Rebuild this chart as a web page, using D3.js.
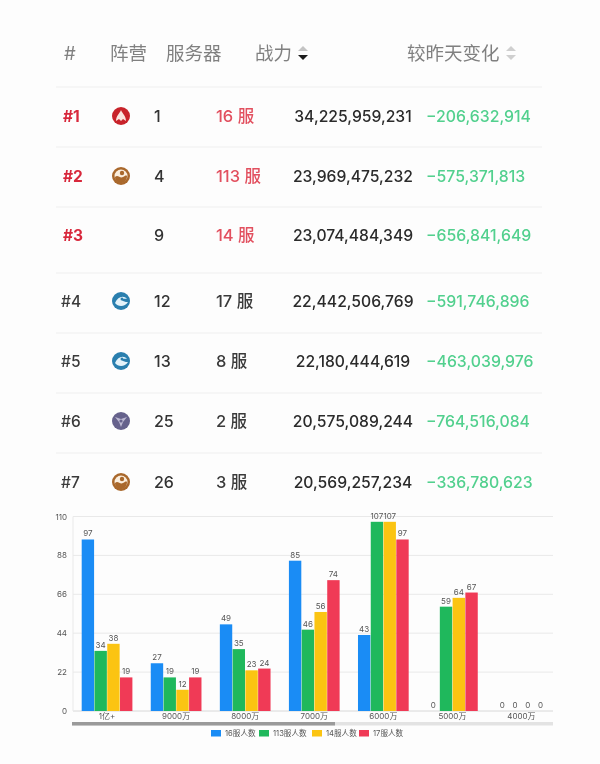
<!DOCTYPE html>
<html><head><meta charset="utf-8">
<script src="https://cdn.jsdelivr.net/npm/d3@7"></script>
<style>
html,body{margin:0;padding:0;background:#fdfdfd}
svg{display:block}
text{font-family:Inter,"Noto Sans CJK SC",sans-serif}
.soft{filter:blur(0.4px)}
</style></head><body>
<svg id="c" width="600" height="764"></svg>
<script>
// ---- table data
const headers = ["#","阵营","服务器","战力","较昨天变化"];
const ranks = ["#1","#2","#3","#4","#5","#6","#7"];
const factions = ["fire","earth",null,"water","water","wind","earth"];
const serverCounts = ["1","4","9","12","13","25","26"];
const serverNames = ["16 服","113 服","14 服","17 服","8 服","2 服","3 服"];
const powers = ["34,225,959,231","23,969,475,232","23,074,484,349","22,442,506,769","22,180,444,619","20,575,089,244","20,569,257,234"];
const changes = ["−206,632,914","−575,371,813","−656,841,649","−591,746,896","−463,039,976","−764,516,084","−336,780,623"];
// ---- chart data
const categories = ["1亿+","9000万","8000万","7000万","6000万","5000万","4000万"];
const seriesNames = ["16服人数","113服人数","14服人数","17服人数"];
const s16  = [97,27,49,85,43,0,0];
const s113 = [34,19,35,46,107,59,0];
const s14  = [38,12,23,56,107,64,0];
const s17  = [19,19,24,74,97,67,0];
const yTicks = [0,22,44,66,88,110];
const seriesColors = ["#1a8cf5","#1fb85c","#fbc412","#f03a56"];

const svg = d3.select("#c");
const root = svg.append("g").attr("class","soft");

// ---- table
const rowY = d3.scaleOrdinal().domain(ranks).range([116,176,235,301,361,421,482]);
const sepY = [87,147,207,273,333,393,453];
root.selectAll("line.sep").data(sepY).join("line").attr("class","sep")
  .attr("x1",56).attr("x2",542).attr("y1",d=>d).attr("y2",d=>d)
  .attr("stroke","#efefef").attr("stroke-width",1);

const headX = [64,110,166,255,407];
root.selectAll("text.h").data(headers).join("text").attr("class","h")
  .attr("x",(d,i)=>headX[i]).attr("y",60).attr("font-size",18.5).attr("fill","#808080").text(d=>d);

function caret(x, topCol, botCol){
  const g = root.append("g").attr("transform",`translate(${x},53)`);
  g.append("path").attr("d",d3.line()([[-5,-2],[0,-7],[5,-2]])+"Z").attr("fill",topCol);
  g.append("path").attr("d",d3.line()([[-5,2],[0,7],[5,2]])+"Z").attr("fill",botCol);
}
caret(303,"#c4c4c4","#1c1c1c");
caret(511,"#cfcfcf","#cfcfcf");

const rows = root.selectAll("g.row").data(ranks).join("g").attr("class","row")
  .attr("transform",d=>`translate(0,${rowY(d)})`);
const isTop = i => i<3;
rows.append("text").attr("x",(d,i)=>isTop(i)?63:61).attr("y",6).attr("font-size",15.5)
  .attr("font-weight",(d,i)=>isTop(i)?700:500).attr("fill",(d,i)=>isTop(i)?"#d8283c":"#3a3a3a").text(d=>d);
rows.append("text").attr("x",154).attr("y",6).attr("font-size",16).attr("font-weight",500).attr("fill","#333").text((d,i)=>serverCounts[i]);
rows.append("text").attr("x",216).attr("y",6).attr("font-size",16.5).attr("font-weight",500).attr("fill",(d,i)=>isTop(i)?"#e2505f":"#3a3a3a").text((d,i)=>serverNames[i]);
rows.append("text").attr("x",353).attr("y",6).attr("text-anchor","middle").attr("font-size",15.7).attr("font-weight",500).attr("fill","#2b2b2b").text((d,i)=>powers[i]);
rows.append("text").attr("x",426).attr("y",6).attr("font-size",15.8).attr("font-weight",500).attr("fill","#52d08e").text((d,i)=>changes[i]);

// faction icons
const iconStyles = {
  fire:{bg:"#c8232a",fg:"#fbe5df"},
  earth:{bg:"#a9682c",fg:"#fbeedd"},
  water:{bg:"#2a7fae",fg:"#e4f3fa"},
  wind:{bg:"#66628c",fg:"#d9d6ea"}
};
rows.each(function(d,i){
  const f = factions[i]; if(!f) return;
  const st = iconStyles[f];
  const g = d3.select(this).append("g").attr("transform","translate(121,0)");
  g.append("circle").attr("r",9).attr("fill",st.bg);
  if(f==="fire"){
    g.append("path").attr("d","M0,-6 C1,-3 5,0 5,5 L2,3 L0,5 L-2,3 L-5,5 C-5,0 -1,-3 0,-6Z").attr("fill",st.fg);
  } else if(f==="earth"){
    g.append("circle").attr("r",6.5).attr("fill",st.fg);
    g.append("path").attr("d","M-6,1 C-3,-2 -1,3 2,1 C4,0 5,-1 6,0 C6,5 3,7 0,7 C-3,7 -6,5 -6,1Z").attr("fill",st.bg);
    g.append("circle").attr("cx",1).attr("cy",-3).attr("r",2.2).attr("fill",st.bg);
  } else if(f==="water"){
    g.append("path").attr("d","M-6,2 C-3,-5 3,-6 6,-2 C2,-3 0,-1 2,0 C4,1 6,1 7,1 C4,6 -3,6 -6,2Z").attr("fill",st.fg);
    g.append("circle").attr("cx",1).attr("cy",-2).attr("r",1.5).attr("fill",st.bg);
  } else {
    g.append("path").attr("d","M-6,-4 L0,-2 L6,-4 L2,1 L0,6 L-2,1Z").attr("fill",st.fg).attr("opacity",.75);
    g.append("circle").attr("r",1.6).attr("fill",st.bg);
  }
});

// ---- chart
const x = d3.scaleBand().domain(categories).range([72.5,556]);
const x1 = d3.scaleBand().domain(seriesNames).range([9.2,59.9]).paddingInner(0.03);
const y = d3.scaleLinear().domain([0,110]).range([711,516.5]);
const chart = root.append("g");

chart.append("g").selectAll("line").data(yTicks).join("line")
  .attr("x1",73).attr("x2",553).attr("y1",d=>y(d)).attr("y2",d=>y(d))
  .attr("stroke",d=>d===0?"#d8d8d8":"#e9e9e9");
chart.append("line").attr("x1",73).attr("x2",73).attr("y1",y(110)).attr("y2",y(0)).attr("stroke","#e9e9e9");

const yAxis = d3.axisLeft(y).tickValues(yTicks).tickSize(0);
const ya = chart.append("g").attr("transform","translate(63,0)").call(yAxis);
ya.select(".domain").remove();
ya.selectAll("text").attr("font-size",8).attr("fill","#555").attr("text-anchor","end").attr("x",4);

const xAxis = d3.axisBottom(x).tickSize(0);
const xa = chart.append("g").attr("transform","translate(0,711)").call(xAxis);
xa.select(".domain").remove();
xa.selectAll("text").attr("font-size",8).attr("fill","#555").attr("y",2);

const allSeries = [s16,s113,s14,s17];
const seriesG = chart.selectAll("g.s").data(allSeries).join("g").attr("class","s").attr("fill",(d,i)=>seriesColors[i]);
seriesG.each(function(vals,si){
  const g = d3.select(this);
  const bx = (i)=>x(categories[i])+x1(seriesNames[si]);
  g.selectAll("rect").data(vals).join("rect")
    .attr("x",(d,i)=>bx(i)).attr("width",x1.bandwidth())
    .attr("y",d=>y(d)).attr("height",d=>y(0)-y(d));
  g.selectAll("text").data(vals).join("text")
    .attr("x",(d,i)=>bx(i)+x1.bandwidth()/2).attr("y",d=>y(d)-3)
    .attr("text-anchor","middle").attr("font-size",8).attr("fill","#555").text(d=>d);
});

// scrollbar
chart.append("rect").attr("x",72).attr("y",722).attr("width",481).attr("height",3.5).attr("fill","#e3e3e3");
chart.append("rect").attr("x",72).attr("y",722).attr("width",263).attr("height",3.5).attr("fill","#9a9a9a");

// legend
const legX = [211,259,312,359];
const leg = chart.selectAll("g.l").data(seriesNames).join("g").attr("class","l")
  .attr("transform",(d,i)=>`translate(${legX[i]},730)`);
leg.append("rect").attr("width",10).attr("height",6.5).attr("fill",(d,i)=>seriesColors[i]);
leg.append("text").attr("x",14).attr("y",6.4).attr("font-size",7.6).attr("fill","#555").text(d=>d);
</script>
</body></html>
